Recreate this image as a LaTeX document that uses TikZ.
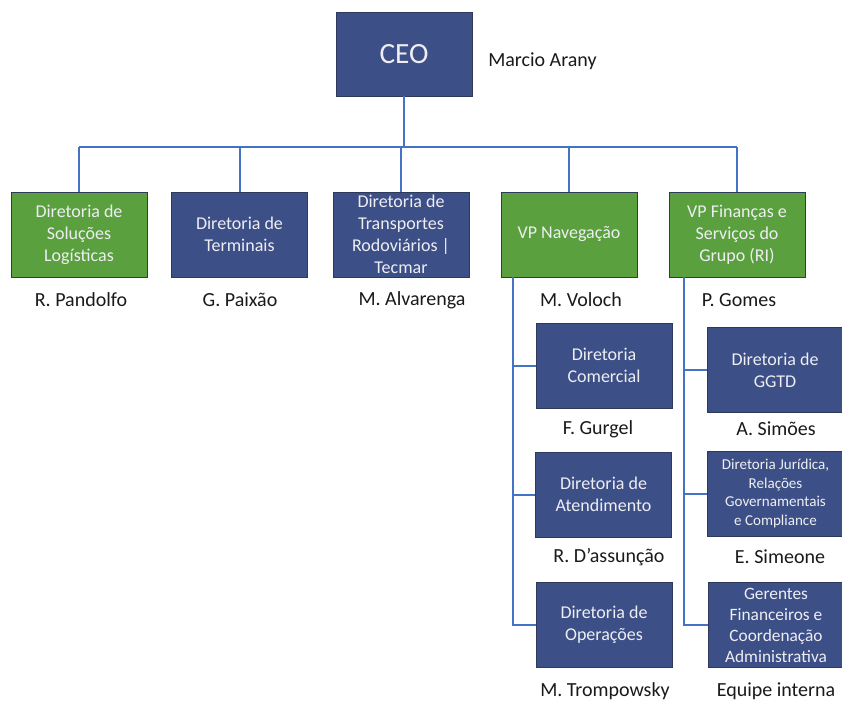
\documentclass[tikz,border=0pt]{standalone}
\usepackage{fontspec}
\setmainfont{Carlito}
\definecolor{boxblue}{HTML}{3D4F87}
\definecolor{boxgreen}{HTML}{5AA03F}
\definecolor{boxedge}{HTML}{2E3A5C}
\definecolor{linkblue}{HTML}{4472C4}
\definecolor{boxtext}{HTML}{EEEEF2}
\definecolor{nametext}{HTML}{1A1A1A}
\begin{document}
\begin{tikzpicture}[x=0.75pt,y=-0.75pt,
  orgbox/.style={draw=boxedge, line width=0.7pt, minimum width=102pt, minimum height=63.75pt,
    inner sep=2pt, align=center, text=boxtext, font=\fontsize{13.5}{16.5}\selectfont},
  bluebox/.style={orgbox, fill=boxblue},
  greenbox/.style={orgbox, fill=boxgreen},
  person/.style={text=nametext, font=\fontsize{15}{18}\selectfont, inner sep=0pt},
  conn/.style={draw=linkblue, line width=1.5pt}]
\useasboundingbox (0,0) rectangle (842,700);
\fill[white] (0,0) rectangle (842,700);

% top
\node[bluebox, font=\fontsize{22}{26}\selectfont, minimum height=63pt] (ceo) at (404,54) {CEO};
\node[person, anchor=west] (ceoname) at (488,61) {Marcio Arany};

% first level
\node[greenbox] (d1) at (79,234.5) {Diretoria de\\Soluções\\Logísticas};
\node[bluebox]  (d2) at (239.5,234.5) {Diretoria de\\Terminais};
\node[bluebox]  (d3) at (401,234.5) {Diretoria de\\Transportes\\Rodoviários |\\Tecmar};
\node[greenbox] (d4) at (569,234.5) {VP Navegação};
\node[greenbox] (d5) at (737,234.5) {VP Finanças e\\Serviços do\\Grupo (RI)};

\node[person] (n1) at (81,300) {R. Pandolfo};
\node[person] (n2) at (240,300) {G. Paixão};
\node[person] (n3) at (412,300) {M. Alvarenga};
\node[person] (n4) at (581,300) {M. Voloch};
\node[person] (n5) at (739,300) {P. Gomes};

% VP Navegacao branch
\node[bluebox] (com) at (604,365.5) {Diretoria\\Comercial};
\node[bluebox] (ate) at (603.5,494.5) {Diretoria de\\Atendimento};
\node[bluebox] (ope) at (604,625) {Diretoria de\\Operações};
\node[person] (n6) at (598,429) {F. Gurgel};
\node[person] (n7) at (609,557) {R. D’assunção};
\node[person] (n8) at (605,691) {M. Trompowsky};

% VP Financas branch
\node[bluebox] (ggtd) at (775,370) {Diretoria de\\GGTD};
\node[bluebox, font=\fontsize{11.3}{13.9}\selectfont] (jur) at (775.5,493.5) {Diretoria Jurídica,\\Relações\\Governamentais\\e Compliance};
\node[bluebox, font=\fontsize{13}{15.75}\selectfont] (ger) at (776,625) {Gerentes\\Financeiros e\\Coordenação\\Administrativa};
\node[person] (n9) at (776,429) {A. Simões};
\node[person] (n10) at (780,557) {E. Simeone};
\node[person] (n11) at (776,691) {Equipe interna};

% connectors
\coordinate (busL) at (79,147);
\coordinate (busR) at (737,147);
\draw[conn] (busL) -- (busR);
\draw[conn] (ceo.south) -- (ceo.south |- busL);
\foreach \d in {d1,d2,d3,d4,d5} {
  \draw[conn] (\d.north) -- (\d.north |- busL);
}
\coordinate (navroot) at (513,277);
\draw[conn] (navroot) |- (com.west);
\draw[conn] (navroot) |- (ate.west);
\draw[conn] (navroot) |- (ope.west);
\coordinate (finroot) at (684,277);
\draw[conn] (finroot) |- (ggtd.west);
\draw[conn] (finroot) |- (jur.west);
\draw[conn] (finroot) |- (ger.west);
\end{tikzpicture}
\end{document}
